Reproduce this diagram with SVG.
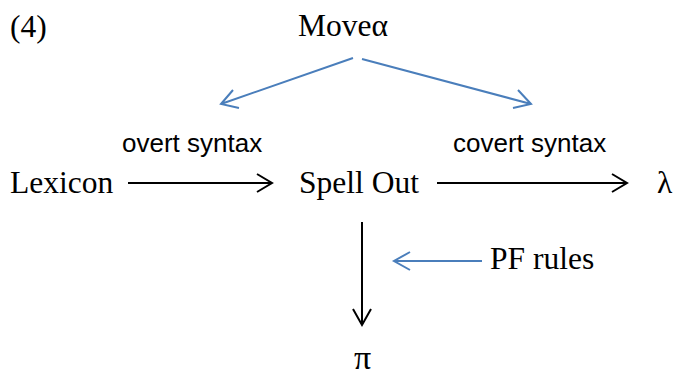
<svg xmlns="http://www.w3.org/2000/svg" width="677" height="378" viewBox="0 0 677 378">
<style>
.t{font-family:"Liberation Serif","Times New Roman",serif;font-size:31.5px;fill:#000}
.s{font-family:"Liberation Sans",Arial,sans-serif;font-size:26px;fill:#000}
.k{stroke:#000;stroke-width:2;fill:none}
.b{stroke:#4a7ebb;stroke-width:2;fill:none}
</style>
<rect width="677" height="378" fill="#fff"/>
<g id="label4"><text class="t" x="10" y="37">(4)</text></g>
<g id="move"><text class="t" x="298" y="36">Moveα</text></g>
<g id="overt"><text class="s" x="122" y="152">overt syntax</text></g>
<g id="covert"><text class="s" x="453" y="152">covert syntax</text></g>
<g id="lexicon"><text class="t" x="10" y="193">Lexicon</text></g>
<g id="spellout"><text class="t" x="299" y="193">Spell Out</text></g>
<g id="lambda"><text class="t" x="657" y="193">λ</text></g>
<g id="pfrules"><text class="t" x="490" y="269">PF rules</text></g>
<g id="pi"><text class="t" x="354" y="369" style="font-size:34px">π</text></g>
<g id="connectors">
<path class="b" d="M353,58 L221,104 M233,90 L221,104 L239,108"/>
<path class="b" d="M362,59 L531,104 M518,90 L531,104 L513,108"/>
<path class="k" d="M128,183 L272,183 M257,174 L272,183 L257,192"/>
<path class="k" d="M437,183 L627,183 M612,174 L627,183 L612,192"/>
<path class="k" d="M362,222 L362,325 M353,309 L362,325 L371,309"/>
<path class="b" d="M482,261 L394,261 M410,252 L394,261 L410,270"/>
</g>
</svg>
